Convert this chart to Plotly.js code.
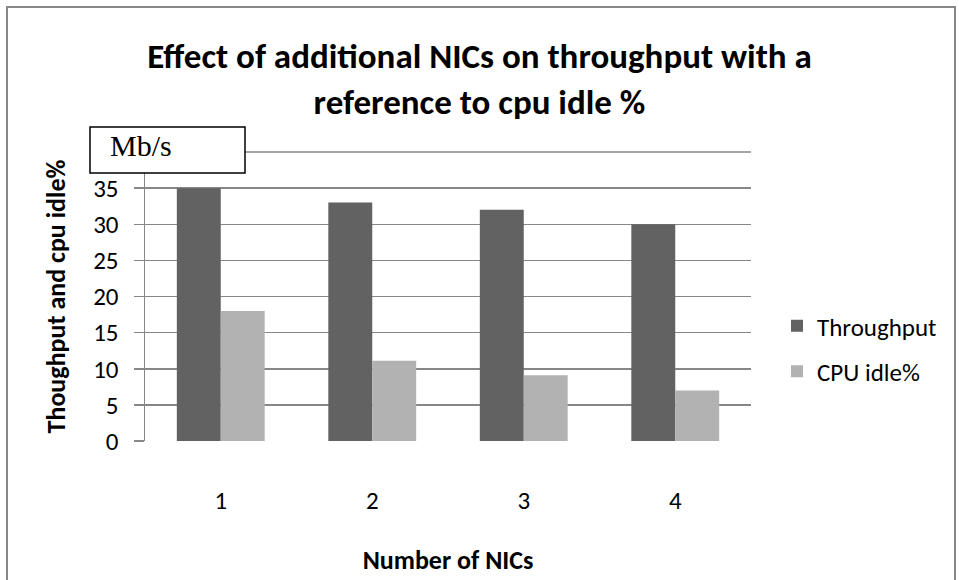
<!DOCTYPE html>
<html>
<head>
<meta charset="utf-8">
<script src="https://cdn.plot.ly/plotly-3.0.1.min.js"></script>
<style>html,body{margin:0;padding:0;background:#fff;}#chart{width:959px;height:580px;}</style>
</head>
<body>
<div id="chart"></div>
<script>
const categories = ['1', '2', '3', '4'];
const throughput = [35, 33, 32, 30];
const cpuIdle = [18, 11.1, 9.1, 7];
const yTicks = [0, 5, 10, 15, 20, 25, 30, 35];

const FONT = "Carlito, 'Liberation Sans Narrow', 'DejaVu Sans Condensed', 'Open Sans', sans-serif";
const L = 145, R = 751, T = 152, B = 441;
const W = 959, H = 580;
const px = v => (v - L) / (R - L);
const py = v => (B - v) / (B - T);

const data = [
  {type: 'bar', name: 'Throughput', x: categories, y: throughput, marker: {color: '#626262'}, legendgroup: 'a'},
  {type: 'bar', name: 'CPU idle%', x: categories, y: cpuIdle, marker: {color: '#b2b2b2'}, legendgroup: 'b'}
];

const layout = {
  width: W, height: H,
  margin: {l: L, r: W - R, t: T, b: H - B, pad: 0},
  paper_bgcolor: '#fff', plot_bgcolor: '#fff',
  font: {family: FONT, color: '#000', size: 25},
  barmode: 'group', bargap: 0.42, bargroupgap: 0,
  title: {
    text: 'Effect of additional NICs on throughput with a<br>reference to cpu idle %',
    font: {family: FONT, size: 35, color: '#000', weight: 'bold'},
    x: 0.5, xanchor: 'center', y: 1 - 68 / H, yanchor: 'middle'
  },
  xaxis: {
    type: 'category', showgrid: false, zeroline: false,
    showline: false, ticks: '', ticklabelstandoff: 42,
    tickfont: {family: FONT, size: 25, color: '#000'},
    title: {text: 'Number of NICs', font: {family: FONT, size: 26, color: '#000', weight: 'bold'}, standoff: 35}
  },
  yaxis: {
    range: [0, 40], tickvals: yTicks, ticktext: yTicks.map(String),
    showgrid: true, gridcolor: '#878787', gridwidth: 1.5,
    zeroline: false, showline: true, linecolor: '#878787', linewidth: 1.5,
    ticks: 'outside', ticklen: 10, tickcolor: '#878787', tickwidth: 1.5,
    tickfont: {family: FONT, size: 25, color: '#000'}, ticklabelstandoff: 10,
    title: {text: 'Thoughput and cpu idle%', font: {family: FONT, size: 26, color: '#000', weight: 'bold'}, standoff: 20}
  },
  showlegend: true,
  legend: {
    x: px(777), y: py(303), xanchor: 'left', yanchor: 'top',
    font: {family: FONT, size: 25, color: '#000'},
    traceorder: 'grouped', tracegroupgap: 10, itemwidth: 30, bgcolor: 'rgba(0,0,0,0)'
  },
  shapes: [
    {type: 'line', xref: 'paper', yref: 'paper', x0: 0, x1: 1, y0: py(152), y1: py(152), line: {color: '#878787', width: 1.5}, layer: 'below'},
    {type: 'rect', xref: 'paper', yref: 'paper', x0: px(7), x1: px(955), y0: py(7), y1: py(600), line: {color: '#878787', width: 2}, fillcolor: 'rgba(0,0,0,0)'},
    {type: 'rect', xref: 'paper', yref: 'paper', x0: px(90), x1: px(245), y0: py(173), y1: py(127), line: {color: '#000', width: 1.5}, fillcolor: '#fff', layer: 'above'}
  ],
  annotations: [
    {xref: 'paper', yref: 'paper', x: px(108), y: py(145), xanchor: 'left', yanchor: 'middle', showarrow: false,
     text: 'Mb/s', font: {family: "'Liberation Serif', 'Times New Roman', serif", size: 30, color: '#000'}}
  ]
};

Plotly.newPlot('chart', data, layout, {displayModeBar: false, staticPlot: true});
</script>
</body>
</html>
